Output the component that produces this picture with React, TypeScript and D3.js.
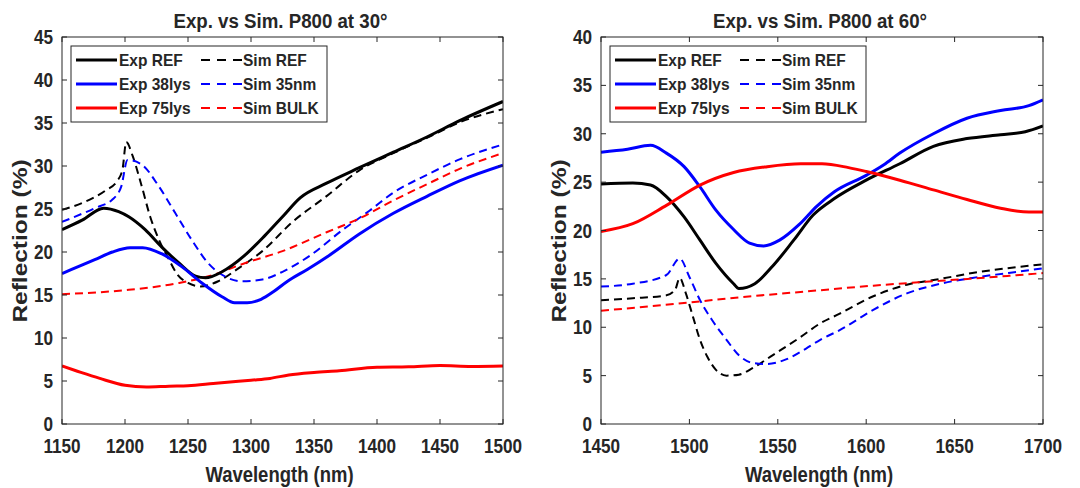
import React from "react";
import * as d3 from "d3";

type P = [number, number];

// ---- Panel 1: 30 degrees ----
const expRef30: P[] = [[1150,22.6],[1166,23.7],[1183,25.1],[1195,24.7],[1203,24.1],[1216,22.6],[1229,20.6],[1243,18.7],[1256,17.2],[1264,17.0],[1277,17.7],[1295,19.6],[1311,21.9],[1325,24.1],[1339,26.3],[1360,28.0],[1386,29.8],[1413,31.6],[1440,33.4],[1466,35.3],[1500,37.5]];
const simRef30: P[] = [[1150,24.9],[1166,25.7],[1184,27.1],[1194,28.3],[1198,29.6],[1201,32.8],[1206,31.2],[1213,27.8],[1220,24.1],[1227,21.4],[1235,19.1],[1241,17.5],[1250,16.4],[1260,16.0],[1274,16.6],[1290,18.1],[1309,20.1],[1333,23.5],[1360,26.5],[1386,29.5],[1413,31.5],[1440,33.3],[1466,35.1],[1500,36.6]];
const exp38_30: P[] = [[1150,17.5],[1176,19.1],[1190,20.0],[1204,20.5],[1214,20.5],[1229,19.8],[1245,18.3],[1261,16.4],[1277,14.8],[1287,14.1],[1297,14.1],[1308,14.5],[1318,15.4],[1329,16.6],[1345,18.0],[1362,19.6],[1386,22.1],[1413,24.5],[1440,26.5],[1466,28.3],[1500,30.1]];
const sim35_30: P[] = [[1150,23.5],[1176,25.1],[1190,26.1],[1197,27.6],[1202,30.7],[1213,30.2],[1227,27.6],[1240,24.5],[1253,21.4],[1266,18.7],[1280,17.1],[1293,16.6],[1309,16.8],[1325,17.7],[1347,19.6],[1373,22.6],[1394,24.8],[1413,26.9],[1440,29.0],[1466,30.8],[1500,32.5]];
const exp75_30: P[] = [[1150,6.75],[1165,6.0],[1180,5.3],[1200,4.5],[1217,4.3],[1235,4.4],[1250,4.45],[1270,4.7],[1300,5.1],[1315,5.3],[1330,5.7],[1350,6.0],[1370,6.2],[1400,6.6],[1425,6.65],[1450,6.8],[1475,6.7],[1500,6.75]];
const simBulk30: P[] = [[1150,15.1],[1203,15.6],[1243,16.4],[1269,17.3],[1295,18.7],[1325,20.1],[1360,22.3],[1386,23.9],[1413,26.0],[1440,27.9],[1466,29.7],[1500,31.5]];

// ---- Panel 2: 60 degrees ----
const expRef60: P[] = [[1450,24.8],[1468,24.9],[1478,24.7],[1487,23.5],[1497,21.4],[1506,19.0],[1515,16.6],[1525,14.5],[1528,14.0],[1537,14.5],[1547,16.3],[1559,19.0],[1570,21.6],[1582,23.3],[1600,25.2],[1619,26.9],[1638,28.7],[1657,29.5],[1676,29.9],[1690,30.2],[1700,30.8]];
const exp38_60: P[] = [[1450,28.1],[1465,28.4],[1478,28.8],[1487,28.0],[1497,26.6],[1506,24.5],[1515,22.1],[1525,20.1],[1534,18.7],[1542,18.4],[1551,19.0],[1562,20.6],[1572,22.5],[1582,24.0],[1600,25.7],[1610,26.8],[1619,28.0],[1638,30.0],[1657,31.6],[1676,32.4],[1692,32.9],[1700,33.5]];
const exp75_60: P[] = [[1450,19.9],[1468,20.7],[1487,22.6],[1506,24.7],[1525,26.0],[1544,26.6],[1563,26.9],[1575,26.9],[1590,26.5],[1600,26.1],[1619,25.2],[1638,24.2],[1657,23.2],[1676,22.3],[1692,21.9],[1700,21.9]];
const simRef60: P[] = [[1450,12.8],[1468,13.0],[1487,13.3],[1492,13.9],[1494.5,15.1],[1498,13.5],[1502,11.1],[1506,8.7],[1510,7.0],[1515,5.6],[1521,5.0],[1528,5.1],[1536,5.8],[1547,7.1],[1563,9.0],[1574,10.4],[1585,11.4],[1604,13.2],[1623,14.4],[1642,15.0],[1660,15.6],[1680,16.1],[1700,16.5]];
const sim35_60: P[] = [[1450,14.2],[1468,14.5],[1487,15.4],[1494.5,17.1],[1500,15.2],[1506,12.8],[1513,10.7],[1521,8.7],[1528,7.1],[1536,6.3],[1544,6.2],[1555,6.7],[1566,7.8],[1574,8.7],[1585,9.7],[1604,11.8],[1623,13.5],[1642,14.5],[1660,15.1],[1680,15.6],[1700,16.1]];
const simBulk60: P[] = [[1450,11.7],[1491,12.4],[1529,13.1],[1566,13.7],[1604,14.3],[1642,14.8],[1680,15.3],[1700,15.6]];

const xTicks30 = [1150, 1200, 1250, 1300, 1350, 1400, 1450, 1500];
const yTicks30 = [0, 5, 10, 15, 20, 25, 30, 35, 40, 45];
const xTicks60 = [1450, 1500, 1550, 1600, 1650, 1700];
const yTicks60 = [0, 5, 10, 15, 20, 25, 30, 35, 40];

const legendLabelsExp = ["Exp REF", "Exp 38lys", "Exp 75lys"];
const legendLabelsSim = ["Sim REF", "Sim 35nm", "Sim BULK"];
const seriesColors = ["#000000", "#0000ff", "#ff0000"];

const FONT = "'Liberation Sans', Arial, Helvetica, sans-serif";
const AX = "#262626";

interface PanelProps {
  left: number;
  width: number;
  top: number;
  height: number;
  xDomain: [number, number];
  yDomain: [number, number];
  xTicks: number[];
  yTicks: number[];
  title: string;
  exp: P[][];
  sim: P[][];
  id: string;
}

function T(props: { x: number; y: number; anchor?: string; size: number; sx?: number; sy?: number; rotate?: boolean; children: React.ReactNode }) {
  const { x, y, anchor = "middle", size, sx = 1, sy = 1, rotate, children } = props;
  const tr = `translate(${x},${y})${rotate ? " rotate(-90)" : ""} scale(${sx},${sy})`;
  return (
    <text transform={tr} textAnchor={anchor} fontFamily={FONT} fontWeight="bold" fontSize={size} fill={AX}>
      {children}
    </text>
  );
}

function Panel(p: PanelProps) {
  const x = d3.scaleLinear().domain(p.xDomain).range([p.left, p.left + p.width]);
  const y = d3.scaleLinear().domain(p.yDomain).range([p.top + p.height, p.top]);
  const line = d3
    .line<P>()
    .x((d) => x(d[0]))
    .y((d) => y(d[1]))
    .curve(d3.curveMonotoneX);
  const bottom = p.top + p.height;
  const right = p.left + p.width;
  const tl = 5;
  const lgX = p.left + 9;
  const lgY = p.top + 9;
  const rows = [p.top + 23, p.top + 47, p.top + 71];
  return (
    <g>
      <defs>
        <clipPath id={p.id}>
          <rect x={p.left} y={p.top} width={p.width} height={p.height} />
        </clipPath>
      </defs>
      <rect x={p.left} y={p.top} width={p.width} height={p.height} fill="#fff" />
      <g clipPath={`url(#${p.id})`}>
        {p.sim.map((s, i) => (
          <path key={"s" + i} d={line(s) || ""} fill="none" stroke={seriesColors[i]} strokeWidth={2} strokeDasharray="8,5" />
        ))}
        {p.exp.map((s, i) => (
          <path key={"e" + i} d={line(s) || ""} fill="none" stroke={seriesColors[i]} strokeWidth={3} strokeLinejoin="round" />
        ))}
      </g>
      {/* axes box */}
      <rect x={p.left} y={p.top} width={p.width} height={p.height} fill="none" stroke={AX} strokeWidth={1} />
      {p.xTicks.map((t) => (
        <g key={"xt" + t}>
          <line x1={x(t)} x2={x(t)} y1={bottom} y2={bottom - tl} stroke={AX} />
          <line x1={x(t)} x2={x(t)} y1={p.top} y2={p.top + tl} stroke={AX} />
          <T x={x(t)} y={bottom + 29} size={19.5} sx={0.88}>{t}</T>
        </g>
      ))}
      {p.yTicks.map((t) => (
        <g key={"yt" + t}>
          <line x1={p.left} x2={p.left + tl} y1={y(t)} y2={y(t)} stroke={AX} />
          <line x1={right} x2={right - tl} y1={y(t)} y2={y(t)} stroke={AX} />
          <T x={p.left - 9} y={y(t) + 7} anchor="end" size={19.5} sx={0.88}>{t}</T>
        </g>
      ))}
      <T x={p.left + p.width / 2 - 2} y={28} size={21} sx={0.89}>{p.title}</T>
      <T x={p.left + p.width / 2 - 3} y={482} size={21.5} sx={0.86}>Wavelength (nm)</T>
      <T x={p.left - 35} y={241} size={24.5} sy={0.8} rotate>Reflection (%)</T>
      {/* legend */}
      <rect x={lgX} y={lgY} width={256} height={76} fill="#fff" stroke={AX} strokeWidth={1} />
      {rows.map((ry, i) => (
        <g key={"lg" + i}>
          <line x1={lgX + 5} x2={lgX + 46} y1={ry} y2={ry} stroke={seriesColors[i]} strokeWidth={3} />
          <T x={lgX + 48} y={ry + 6} anchor="start" size={16.5} sx={0.94}>{legendLabelsExp[i]}</T>
          <line x1={lgX + 130} x2={lgX + 171} y1={ry} y2={ry} stroke={seriesColors[i]} strokeWidth={2} strokeDasharray="9,7" />
          <T x={lgX + 172} y={ry + 6} anchor="start" size={16.5} sx={0.94}>{legendLabelsSim[i]}</T>
        </g>
      ))}
    </g>
  );
}

export default function App() {
  return (
    <svg
      width={1080}
      height={488}
      viewBox="0 0 1080 488"
      style={{ position: "absolute", left: 0, top: 0, background: "#fff" }}
    >
      <rect x={0} y={0} width={1080} height={488} fill="#fff" />
      <Panel
        id="clip30"
        left={62}
        width={441}
        top={37}
        height={387}
        xDomain={[1150, 1500]}
        yDomain={[0, 45]}
        xTicks={xTicks30}
        yTicks={yTicks30}
        title="Exp. vs Sim. P800 at 30°"
        exp={[expRef30, exp38_30, exp75_30]}
        sim={[simRef30, sim35_30, simBulk30]}
      />
      <Panel
        id="clip60"
        left={601}
        width={442}
        top={37}
        height={387}
        xDomain={[1450, 1700]}
        yDomain={[0, 40]}
        xTicks={xTicks60}
        yTicks={yTicks60}
        title="Exp. vs Sim. P800 at 60°"
        exp={[expRef60, exp38_60, exp75_60]}
        sim={[simRef60, sim35_60, simBulk60]}
      />
    </svg>
  );
}
